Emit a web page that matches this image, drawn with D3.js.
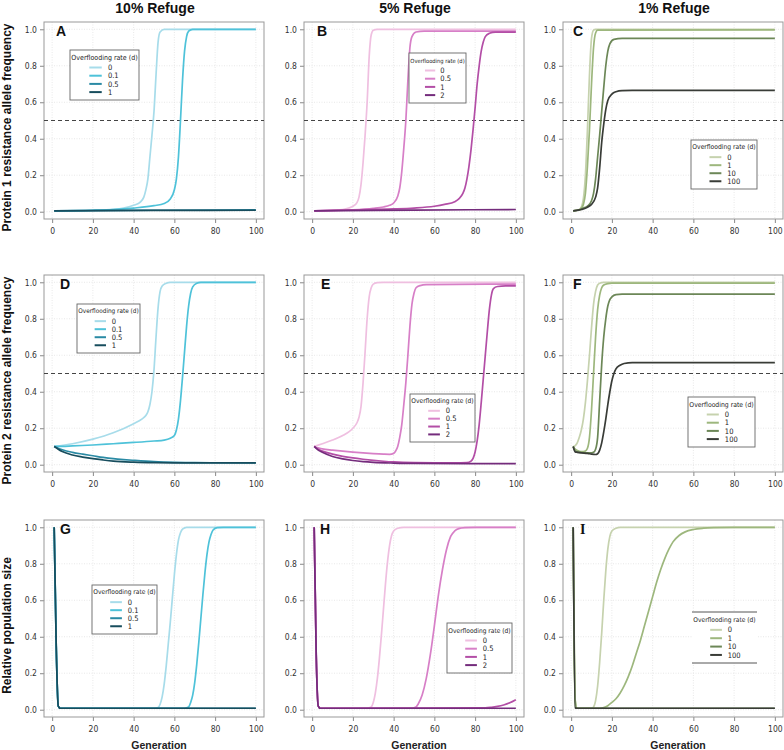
<!DOCTYPE html>
<html><head><meta charset="utf-8">
<script src="https://cdn.jsdelivr.net/npm/d3@7"></script>
<style>body{margin:0;background:#fff}</style>
</head><body>
<svg id="chart" width="784" height="750"></svg>
<script>
// ---------------- DATA ----------------
const columnTitles = ["10% Refuge", "5% Refuge", "1% Refuge"];
const rowLabels = ["Protein 1 resistance allele frequency", "Protein 2 resistance allele frequency", "Relative population size"];
const xLabel = "Generation";
const xTicks = [0, 20, 40, 60, 80, 100];
const yTicks = [0, 0.2, 0.4, 0.6, 0.8, 1.0];
const panelLetters = ["A", "B", "C", "D", "E", "F", "G", "H", "I"];
const legendTitle = "Overflooding rate (d)";
const ratesByColumn = [["0", "0.1", "0.5", "1"], ["0", "0.5", "1", "2"], ["0", "1", "10", "100"]];
const colorsByColumn = [
  ["#a7dcea", "#4ec2d9", "#2a8aa4", "#174d5d"],
  ["#efbfe0", "#d77fc7", "#b34ea6", "#742c7c"],
  ["#c6d2ae", "#9db77d", "#6c8757", "#393c37"]
];
const thresholdRows = [0, 1]; // rows with dashed 0.5 line
const threshold = 0.5;

// Panel A : protein 1, 10% refuge  [generation, frequency]
const A_d0 = [[1,0.005],[10,0.006],[20,0.008],[30,0.013],[35,0.02],[40,0.035],[43,0.05],[45,0.08],[46,0.12],[47,0.18],[48,0.3],[49,0.42],[50,0.55],[51,0.75],[52,0.93],[53,0.985],[55,1.0],[100,1.0]];
const A_d01 = [[1,0.005],[20,0.008],[30,0.012],[40,0.02],[50,0.033],[55,0.045],[58,0.07],[60,0.12],[61,0.18],[62,0.3],[63,0.5],[64,0.72],[65,0.88],[66,0.96],[67,0.99],[69,1.0],[100,1.0]];
const A_d05 = [[1,0.005],[50,0.008],[100,0.01]];
const A_d1 = [[1,0.005],[50,0.007],[100,0.008]];

// Panel B : protein 1, 5% refuge
const B_d0 = [[1,0.005],[10,0.008],[15,0.012],[18,0.02],[20,0.03],[22,0.05],[23,0.08],[24,0.15],[25,0.27],[26,0.42],[27,0.6],[28,0.85],[29,0.97],[30,0.995],[32,1.0],[100,1.0]];
const B_d05 = [[1,0.005],[20,0.01],[30,0.018],[35,0.026],[38,0.035],[40,0.048],[42,0.085],[43,0.13],[44,0.22],[45,0.35],[46,0.5],[47,0.72],[48,0.9],[49,0.96],[51,0.985],[55,0.99],[100,0.99]];
const B_d1 = [[1,0.005],[20,0.01],[40,0.015],[50,0.02],[60,0.03],[65,0.04],[70,0.055],[72,0.07],[74,0.1],[75,0.13],[76,0.18],[77,0.25],[78,0.34],[79,0.45],[80,0.57],[81,0.7],[82,0.8],[83,0.88],[84,0.93],[85,0.96],[87,0.978],[90,0.985],[100,0.985]];
const B_d2 = [[1,0.005],[50,0.009],[100,0.012]];

// Panel C : protein 1, 1% refuge
const C_d0 = [[1,0.005],[3,0.008],[4,0.012],[5,0.025],[6,0.07],[7,0.2],[8,0.45],[9,0.75],[10,0.95],[11,0.995],[12,1.0],[100,1.0]];
const C_d1 = [[1,0.005],[3,0.008],[4,0.01],[5,0.02],[6,0.04],[7,0.1],[8,0.25],[9,0.45],[10,0.7],[11,0.9],[12,0.98],[13,0.995],[100,0.997]];
const C_d10 = [[1,0.005],[4,0.01],[6,0.02],[8,0.03],[10,0.06],[11,0.1],[12,0.18],[13,0.3],[14,0.42],[15,0.55],[16,0.68],[17,0.8],[18,0.88],[19,0.92],[21,0.945],[25,0.95],[100,0.95]];
const C_d100 = [[1,0.005],[4,0.01],[6,0.015],[8,0.025],[10,0.04],[12,0.08],[13,0.13],[14,0.24],[15,0.38],[16,0.48],[17,0.56],[18,0.61],[20,0.645],[22,0.658],[25,0.664],[30,0.665],[100,0.665]];

// Panel D : protein 2, 10% refuge
const D_d0 = [[1,0.1],[10,0.115],[20,0.14],[30,0.175],[40,0.225],[44,0.25],[46,0.27],[47,0.29],[48,0.33],[49,0.4],[50,0.52],[51,0.7],[52,0.86],[53,0.95],[54,0.98],[56,0.995],[58,1.0],[100,1.0]];
const D_d01 = [[1,0.1],[5,0.1],[10,0.103],[20,0.108],[30,0.115],[40,0.122],[50,0.13],[55,0.135],[58,0.145],[60,0.16],[61,0.19],[62,0.25],[63,0.35],[64,0.48],[65,0.62],[66,0.76],[67,0.87],[68,0.94],[69,0.975],[71,0.995],[73,1.0],[100,1.0]];
const D_d05 = [[1,0.1],[3,0.09],[5,0.082],[10,0.068],[15,0.058],[20,0.049],[25,0.04],[30,0.033],[35,0.028],[40,0.024],[50,0.017],[60,0.013],[70,0.011],[100,0.01]];
const D_d1 = [[1,0.1],[3,0.085],[5,0.072],[10,0.053],[15,0.042],[20,0.033],[25,0.026],[30,0.02],[40,0.014],[50,0.011],[60,0.01],[100,0.01]];

// Panel E : protein 2, 5% refuge
const E_d0 = [[1,0.1],[5,0.115],[10,0.135],[15,0.16],[18,0.18],[20,0.2],[22,0.23],[23,0.26],[24,0.32],[25,0.45],[26,0.62],[27,0.8],[28,0.92],[29,0.97],[30,0.99],[32,0.998],[35,1.0],[100,1.0]];
const E_d05 = [[1,0.1],[3,0.092],[5,0.087],[10,0.08],[15,0.074],[20,0.069],[25,0.065],[30,0.061],[35,0.058],[38,0.057],[40,0.062],[41,0.075],[42,0.1],[43,0.15],[44,0.22],[45,0.33],[46,0.45],[47,0.6],[48,0.76],[49,0.88],[50,0.94],[51,0.97],[53,0.982],[56,0.987],[100,0.99]];
const E_d1 = [[1,0.1],[3,0.085],[5,0.075],[10,0.058],[15,0.046],[20,0.037],[25,0.03],[30,0.024],[35,0.019],[40,0.015],[50,0.011],[60,0.01],[70,0.01],[76,0.011],[78,0.02],[79,0.035],[80,0.07],[81,0.13],[82,0.22],[83,0.34],[84,0.47],[85,0.6],[86,0.73],[87,0.85],[88,0.93],[89,0.965],[91,0.977],[95,0.98],[100,0.98]];
const E_d2 = [[1,0.1],[3,0.08],[5,0.068],[10,0.045],[15,0.032],[20,0.023],[25,0.017],[30,0.013],[40,0.009],[50,0.007],[100,0.006]];

// Panel F : protein 2, 1% refuge
const F_d0 = [[1,0.1],[2,0.105],[3,0.12],[4,0.15],[5,0.19],[6,0.25],[7,0.34],[8,0.46],[9,0.6],[10,0.75],[11,0.88],[12,0.95],[13,0.985],[14,0.995],[16,1.0],[100,1.0]];
const F_d1 = [[1,0.1],[2,0.085],[3,0.078],[4,0.074],[5,0.072],[6,0.072],[7,0.075],[8,0.09],[9,0.15],[10,0.3],[11,0.5],[12,0.7],[13,0.85],[14,0.93],[15,0.97],[16,0.985],[18,0.993],[20,0.995],[100,0.995]];
const F_d10 = [[1,0.1],[2,0.075],[3,0.07],[5,0.067],[8,0.065],[10,0.065],[11,0.068],[12,0.085],[13,0.15],[14,0.35],[15,0.55],[16,0.7],[17,0.8],[18,0.87],[19,0.905],[20,0.92],[22,0.932],[25,0.935],[100,0.935]];
const F_d100 = [[1,0.1],[2,0.07],[3,0.068],[5,0.065],[8,0.062],[10,0.058],[12,0.056],[13,0.06],[14,0.08],[15,0.12],[16,0.18],[17,0.25],[18,0.33],[19,0.4],[20,0.46],[21,0.5],[22,0.525],[24,0.545],[26,0.555],[30,0.56],[100,0.56]];

// Panel G : population size, 10% refuge
const G_d0 = [[1,1.0],[2,0.35],[3,0.02],[4,0.008],[50,0.008],[52,0.012],[53,0.03],[54,0.07],[55,0.14],[56,0.24],[57,0.36],[58,0.48],[59,0.61],[60,0.74],[61,0.85],[62,0.93],[63,0.97],[64,0.99],[66,1.0],[100,1.0]];
const G_d01 = [[1,1.0],[2,0.35],[3,0.02],[4,0.008],[65,0.008],[67,0.015],[68,0.04],[69,0.08],[70,0.15],[71,0.25],[72,0.37],[73,0.5],[74,0.63],[75,0.75],[76,0.85],[77,0.92],[78,0.96],[79,0.985],[81,0.998],[84,1.0],[100,1.0]];
const G_d05 = [[1,1.0],[2,0.35],[3,0.02],[4,0.008],[100,0.008]];
const G_d1 = [[1,1.0],[2,0.35],[3,0.02],[4,0.008],[100,0.008]];

// Panel H : population size, 5% refuge
const H_d0 = [[1,1.0],[2,0.3],[3,0.02],[4,0.008],[27,0.008],[29,0.015],[30,0.04],[31,0.09],[32,0.17],[33,0.28],[34,0.41],[35,0.55],[36,0.69],[37,0.81],[38,0.9],[39,0.955],[40,0.98],[42,0.995],[45,1.0],[100,1.0]];
const H_d05 = [[1,1.0],[2,0.3],[3,0.02],[4,0.008],[49,0.008],[51,0.015],[52,0.03],[54,0.08],[56,0.17],[58,0.3],[60,0.46],[62,0.63],[64,0.77],[66,0.88],[68,0.95],[70,0.98],[72,0.993],[75,0.998],[80,1.0],[100,1.0]];
const H_d1 = [[1,1.0],[2,0.3],[3,0.02],[4,0.008],[85,0.01],[88,0.013],[91,0.018],[94,0.026],[97,0.038],[100,0.055]];
const H_d2 = [[1,1.0],[2,0.3],[3,0.02],[4,0.008],[100,0.008]];

// Panel I : population size, 1% refuge
const I_d0 = [[1,1.0],[2,0.05],[3,0.008],[10,0.008],[11,0.015],[12,0.05],[13,0.13],[14,0.26],[15,0.42],[16,0.6],[17,0.76],[18,0.88],[19,0.95],[20,0.98],[22,0.995],[24,1.0],[100,1.0]];
const I_d1 = [[1,1.0],[2,0.05],[3,0.008],[14,0.008],[16,0.012],[18,0.022],[20,0.04],[22,0.06],[24,0.09],[26,0.13],[28,0.18],[30,0.24],[32,0.31],[34,0.38],[36,0.46],[38,0.54],[40,0.62],[42,0.7],[44,0.77],[46,0.83],[48,0.88],[50,0.92],[53,0.955],[56,0.975],[60,0.988],[65,0.995],[70,0.998],[80,1.0],[100,1.0]];
const I_d10 = [[1,1.0],[2,0.01],[3,0.008],[100,0.008]];
const I_d100 = [[1,1.0],[2,0.01],[3,0.008],[100,0.008]];

const panelSeries = [
  [A_d0, A_d01, A_d05, A_d1], [B_d0, B_d05, B_d1, B_d2], [C_d0, C_d1, C_d10, C_d100],
  [D_d0, D_d01, D_d05, D_d1], [E_d0, E_d05, E_d1, E_d2], [F_d0, F_d1, F_d10, F_d100],
  [G_d0, G_d01, G_d05, G_d1], [H_d0, H_d05, H_d1, H_d2], [I_d0, I_d1, I_d10, I_d100]
];

// ---------------- LAYOUT ----------------
const W = 784, H = 750;
const colX = [44, 304, 563];
const rowY = [22, 275, 520];
const PW = 220, PH = 197;
// legend boxes [x, y, w, h] (absolute px)
const legendBoxes = [
  [70, 50, 69, 50], [409, 53, 57, 50], [691, 140, 66, 49],
  [77, 304, 63, 49], [410, 394, 65, 48], [688, 397, 67, 50],
  [92, 585, 65, 49], [447, 623, 65, 50], [692, 612, 65, 51]
];
const letterDx = [12, 13, 10, 16, 17, 10, 16, 16, 17];

const svg = d3.select("#chart");
svg.append("rect").attr("width", W).attr("height", H).attr("fill", "#fff");

const tickFont = "'DejaVu Sans Condensed','DejaVu Sans',sans-serif";
const boldFont = "'Liberation Sans',Arial,sans-serif";

// column titles
columnTitles.forEach((t, c) => {
  svg.append("text").attr("x", colX[c] + PW / 2 + 1).attr("y", 13)
    .attr("text-anchor", "middle").attr("font-family", boldFont)
    .attr("font-weight", "bold").attr("font-size", 14).attr("fill", "#111").text(t);
});
// row labels
rowLabels.forEach((t, r) => {
  const cy = rowY[r] + PH / 2 + 7;
  svg.append("text").attr("transform", `translate(11,${cy}) rotate(-90)`)
    .attr("text-anchor", "middle").attr("font-family", boldFont)
    .attr("font-weight", "bold").attr("font-size", 12).attr("fill", "#111").text(t);
});
// x label
colX.forEach(cx => {
  svg.append("text").attr("x", cx + PW / 2 + 5).attr("y", 749)
    .attr("text-anchor", "middle").attr("font-family", boldFont)
    .attr("font-weight", "bold").attr("font-size", 10.5).attr("fill", "#222").text(xLabel);
});

for (let r = 0; r < 3; r++) {
  for (let c = 0; c < 3; c++) {
    const p = r * 3 + c;
    const g = svg.append("g").attr("transform", `translate(${colX[c]},${rowY[r]})`);
    const x = d3.scaleLinear().domain([-4, 104]).range([0, PW]);
    const y = d3.scaleLinear().domain([-0.04, 1.04]).range([PH, 0]);

    // grid
    g.append("g").selectAll("line").data(xTicks).join("line")
      .attr("x1", d => x(d)).attr("x2", d => x(d)).attr("y1", 0).attr("y2", PH)
      .attr("stroke", "#e2e2e2").attr("stroke-width", 0.8).attr("stroke-dasharray", "1,1.5");
    g.append("g").selectAll("line").data(yTicks).join("line")
      .attr("y1", d => y(d)).attr("y2", d => y(d)).attr("x1", 0).attr("x2", PW)
      .attr("stroke", "#e2e2e2").attr("stroke-width", 0.8).attr("stroke-dasharray", "1,1.5");

    // axes
    const xa = g.append("g").attr("transform", `translate(0,${PH})`)
      .call(d3.axisBottom(x).tickValues(xTicks).tickFormat(d3.format("d")).tickSize(4).tickPadding(5));
    const ya = g.append("g")
      .call(d3.axisLeft(y).tickValues(yTicks).tickFormat(d3.format(".1f")).tickSize(4).tickPadding(3));
    [xa, ya].forEach(a => {
      a.select(".domain").remove();
      a.selectAll("line").attr("stroke", "#888");
      a.selectAll("text").attr("font-family", tickFont).attr("font-stretch", "condensed")
        .attr("font-size", 8.5).attr("fill", "#333");
    });

    // frame
    g.append("rect").attr("width", PW).attr("height", PH).attr("fill", "none")
      .attr("stroke", "#999").attr("stroke-width", 1);

    // threshold line
    if (thresholdRows.includes(r)) {
      g.append("line").attr("x1", 0).attr("x2", PW).attr("y1", y(threshold)).attr("y2", y(threshold))
        .attr("stroke", "#444").attr("stroke-width", 1).attr("stroke-dasharray", "4,3");
    }

    // series
    const line = d3.line().x(d => x(d[0])).y(d => y(d[1])).curve(d3.curveMonotoneX);
    panelSeries[p].forEach((s, i) => {
      g.append("path").attr("d", line(s)).attr("fill", "none")
        .attr("stroke", colorsByColumn[c][i]).attr("stroke-width", 1.7)
        .attr("stroke-linejoin", "round");
    });

    // panel letter
    g.append("text").attr("x", letterDx[p]).attr("y", 14)
      .attr("font-family", panelLetters[p] === "I" ? "'Liberation Serif',serif" : boldFont)
      .attr("font-weight", "900").attr("font-size", 14).attr("fill", "#111").text(panelLetters[p]);

    // legend
    const [lx, ly, lw, lh] = legendBoxes[p];
    const lg = svg.append("g").attr("transform", `translate(${lx},${ly})`);
    lg.append("rect").attr("width", lw).attr("height", lh).attr("fill", "#fff");
    if (p === 8) {
      lg.append("line").attr("x1", 0).attr("x2", lw).attr("y1", 0).attr("y2", 0).attr("stroke", "#555");
      lg.append("line").attr("x1", 0).attr("x2", lw).attr("y1", lh).attr("y2", lh).attr("stroke", "#555");
    } else {
      lg.append("rect").attr("width", lw).attr("height", lh).attr("fill", "none")
        .attr("stroke", "#666").attr("stroke-width", 0.9);
    }
    const tfs = Math.min(7, (lw - 3) / 9.4);
    lg.append("text").attr("x", lw / 2).attr("y", lh * 0.19).attr("text-anchor", "middle")
      .attr("font-family", tickFont).attr("font-stretch", "condensed")
      .attr("font-size", tfs).attr("fill", "#222").text(legendTitle);
    ratesByColumn[c].forEach((rate, i) => {
      const yy = lh * 0.35 + i * lh * 0.164;
      lg.append("line").attr("x1", lw * 0.28).attr("x2", lw * 0.46).attr("y1", yy).attr("y2", yy)
        .attr("stroke", colorsByColumn[c][i]).attr("stroke-width", 2);
      lg.append("text").attr("x", lw * 0.55).attr("y", yy).attr("dy", "0.35em")
        .attr("font-family", tickFont).attr("font-stretch", "condensed")
        .attr("font-size", 7.5).attr("fill", "#222").text(rate);
    });
  }
}
</script>
</body></html>
